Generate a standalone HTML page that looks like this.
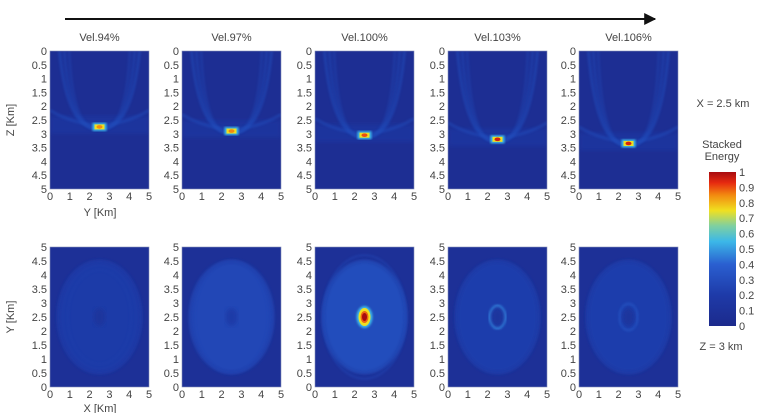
<!DOCTYPE html>
<html><head><meta charset="utf-8">
<style>
html,body{margin:0;padding:0;background:#fff;}
body{width:767px;height:413px;overflow:hidden;font-family:"Liberation Sans",sans-serif;}
svg text{font-family:"Liberation Sans",sans-serif;fill:#444;}
</style></head>
<body>
<svg id="chart" width="767" height="413" viewBox="0 0 767 413" xmlns="http://www.w3.org/2000/svg">
<defs>
<marker id="ah" viewBox="0 0 10 10" refX="9" refY="5" markerWidth="6" markerHeight="6" orient="auto"><path d="M0,0 L10,5 L0,10 z" fill="#111"/></marker>
<linearGradient id="jet" x1="0" y1="1" x2="0" y2="0">
<stop offset="0" stop-color="#1c2a8c"/><stop offset="0.2" stop-color="#1e3aa8"/><stop offset="0.4" stop-color="#2a5fd0"/>
<stop offset="0.55" stop-color="#3cb8e8"/><stop offset="0.65" stop-color="#7fd0a0"/><stop offset="0.75" stop-color="#f0e020"/>
<stop offset="0.85" stop-color="#f28a10"/><stop offset="0.93" stop-color="#e62a10"/><stop offset="1" stop-color="#a80c10"/>
</linearGradient>
<filter id="blur2"><feGaussianBlur stdDeviation="2"/></filter>
<filter id="blur1"><feGaussianBlur stdDeviation="1"/></filter>
</defs>
<line x1="65" y1="19" x2="655" y2="19" stroke="#111" stroke-width="2" marker-end="url(#ah)"/>
<g id="topG"></g>
<g id="bottomG"></g>
<g id="cbar"></g>
</svg>
<script>
const velocities = ["Vel.94%","Vel.97%","Vel.100%","Vel.103%","Vel.106%"];
const focusDepth = [2.75, 2.9, 3.05, 3.2, 3.35];
const focusPeak = [0.85, 0.85, 0.9, 0.95, 0.95];
const ringRadius = [1.6, 1.9, 2.1, 0.38, 0.45];
const ringValue = [0.22, 0.25, 0.28, 0.45, 0.3];
const centerValue = [0.12, 0.2, 1.0, 0.12, 0.12];
const haloValue = [0.2, 0.27, 0.3, 0.22, 0.22];
const ticks = [0,0.5,1,1.5,2,2.5,3,3.5,4,4.5,5];
const xTicks = [0,1,2,3,4,5];
const cbTicks = [0,0.1,0.2,0.3,0.4,0.5,0.6,0.7,0.8,0.9,1];

const NS="http://www.w3.org/2000/svg";
function mk(tag,attrs,parent){const e=document.createElementNS(NS,tag);for(const k in attrs)e.setAttribute(k,attrs[k]);parent.appendChild(e);return e;}
function jet(v){
  const st=[[0,[28,42,140]],[0.2,[30,58,168]],[0.4,[42,95,208]],[0.55,[60,184,232]],[0.65,[127,208,160]],[0.75,[240,224,32]],[0.85,[242,138,16]],[0.93,[230,42,16]],[1,[168,12,16]]];
  v=Math.max(0,Math.min(1,v));
  for(let i=1;i<st.length;i++){if(v<=st[i][0]){const t=(v-st[i-1][0])/(st[i][0]-st[i-1][0]);const a=st[i-1][1],b=st[i][1];return `rgb(${a.map((c,j)=>Math.round(c+(b[j]-c)*t)).join(',')})`;}}
  return 'rgb(168,12,16)';
}
const panelX=[50,182,315,448,579], PW=99;
const topRow={y0:51,y1:189}, botRow={y0:247,y1:387};
const topGroup=document.getElementById('topG'), botGroup=document.getElementById('bottomG');
const defsEl=document.querySelector('defs');

velocities.forEach((v,i)=>{
  const x0=panelX[i];
  const sx=d=>x0+d/5*PW;
  const szT=z=>topRow.y0+z/5*(topRow.y1-topRow.y0);
  const syB=y=>botRow.y1-y/5*(botRow.y1-botRow.y0);
  const t=mk('text',{x:x0+PW/2,y:41,'text-anchor':'middle','font-size':11},topGroup);t.textContent=v;
  
  
  const g=mk('g',{},topGroup);
  
  
  const cp='clipT'+i; const c=mk('clipPath',{id:cp},defsEl); mk('rect',{x:x0,y:topRow.y0,width:PW,height:topRow.y1-topRow.y0},c);
  mk('rect',{x:x0,y:topRow.y0,width:PW,height:topRow.y1-topRow.y0,fill:jet(0.05)},g);
  const inner=mk('g',{'clip-path':`url(#${cp})`},g);
  const z=focusDepth[i];
  mk('rect',{x:x0,y:szT(z-0.4),width:PW,height:szT(z+0.25)-szT(z-0.4),fill:jet(0.2),opacity:0.5,filter:'url(#blur2)'},inner);
  [0.3,0.7,1.1].forEach((o,k)=>{
    mk('path',{d:`M${sx(0.3+o*0.6)},${szT(0)} Q${sx(0.8+o*0.3)},${szT(z+0.2)} ${sx(2.5)},${szT(z+0.05)} Q${sx(4.2-o*0.3)},${szT(z+0.2)} ${sx(4.7-o*0.6)},${szT(0)}`,fill:'none',stroke:jet(0.3),'stroke-width':3,opacity:0.55-k*0.1,filter:'url(#blur1)'},inner);
  });
  mk('path',{d:`M${sx(0)},${szT(z-0.6)} Q${sx(2.5)},${szT(z+0.45)} ${sx(5)},${szT(z-0.6)}`,fill:'none',stroke:jet(0.3),'stroke-width':3,opacity:0.5,filter:'url(#blur1)'},inner);
  const f=mk('g',{},inner);
  
  
  mk('rect',{x:sx(2.5)-7,y:szT(z)-4,width:14,height:8,fill:jet(0.55),filter:'url(#blur1)'},f);
  mk('rect',{x:sx(2.5)-5,y:szT(z)-2.5,width:10,height:5,fill:jet(0.75)},f);
  mk('ellipse',{cx:sx(2.5),cy:szT(z),rx:3,ry:1.8,fill:jet(focusPeak[i])},f);
  mk('rect',{x:x0,y:topRow.y0,width:PW,height:topRow.y1-topRow.y0,fill:'none',stroke:'#8890b8','stroke-width':0.6},g);
  ticks.forEach(tv=>{const tt=mk('text',{x:x0-3,y:szT(tv)+4,'text-anchor':'end','font-size':11},g);tt.textContent=tv;});
  xTicks.forEach(tv=>{const tt=mk('text',{x:sx(tv),y:topRow.y1+11,'text-anchor':'middle','font-size':11},g);tt.textContent=tv;});
  const b=mk('g',{},botGroup);
  
  
  const cb='clipB'+i; const c2=mk('clipPath',{id:cb},defsEl); mk('rect',{x:x0,y:botRow.y0,width:PW,height:botRow.y1-botRow.y0},c2);
  mk('rect',{x:x0,y:botRow.y0,width:PW,height:botRow.y1-botRow.y0,fill:jet(0.08)},b);
  const bi=mk('g',{'clip-path':`url(#${cb})`},b);
  const H=botRow.y1-botRow.y0;
  mk('ellipse',{cx:sx(2.5),cy:syB(2.5),rx:PW*0.42,ry:H*0.4,fill:jet(haloValue[i]),filter:'url(#blur2)'},bi);
  mk('ellipse',{cx:sx(2.5),cy:syB(2.5),rx:PW*0.42,ry:H*0.4,fill:'none',stroke:jet(haloValue[i]+0.05),'stroke-width':2,opacity:0.4,filter:'url(#blur1)'},bi);
  const r=ringRadius[i];
  const ring=mk('ellipse',{cx:sx(2.5),cy:syB(2.5),rx:r/5*PW,ry:r/5*H*1.05,fill:'none',stroke:jet(ringValue[i]),'stroke-width':r<1?2.5:2,opacity:r<1?1:0.5,filter:'url(#blur1)'},bi);
  
  
  const cv=centerValue[i];
  const cg=mk('g',{},bi);
  
  
  if(cv>0.5){
    mk('ellipse',{cx:sx(2.5),cy:syB(2.5),rx:8,ry:11,fill:jet(cv*0.55),filter:'url(#blur1)'},cg);
    mk('ellipse',{cx:sx(2.5),cy:syB(2.5),rx:6,ry:9,fill:jet(cv*0.75)},cg);
    mk('ellipse',{cx:sx(2.5),cy:syB(2.5),rx:4,ry:6,fill:jet(cv*0.88)},cg);
    mk('ellipse',{cx:sx(2.5),cy:syB(2.5),rx:2.5,ry:4,fill:jet(cv)},cg);
  } else {
    mk('ellipse',{cx:sx(2.5),cy:syB(2.5),rx:6,ry:9,fill:jet(cv),filter:'url(#blur2)'},cg);
  }
  mk('rect',{x:x0,y:botRow.y0,width:PW,height:H,fill:'none',stroke:'#8890b8','stroke-width':0.6},b);
  ticks.forEach(tv=>{const tt=mk('text',{x:x0-3,y:syB(tv)+4,'text-anchor':'end','font-size':11},b);tt.textContent=tv;});
  xTicks.forEach(tv=>{const tt=mk('text',{x:sx(tv),y:botRow.y1+11,'text-anchor':'middle','font-size':11},b);tt.textContent=tv;});
});
function label(txt,x,y,rot,name){const t=mk('text',{x:x,y:y,'text-anchor':'middle','font-size':11},document.getElementById('chart'));if(rot)t.setAttribute('transform',`rotate(-90 ${x} ${y})`);t.textContent=txt;
  
  }
label('Z [Km]',14,120,true,'z-axis-title');
label('Y [Km]',100,216,false,'top-x-axis-title');
label('Y [Km]',14,317,true,'bottom-y-axis-title');
label('X [Km]',100,412,false,'bottom-x-axis-title');
label('X = 2.5 km',723,107,false,'top-row-note');
label('Z = 3 km',721,350,false,'bottom-row-note');
label('Stacked',722,148,false,'colorbar-title');
label('Energy',722,160,false,'colorbar-title-2');
const cbG=document.getElementById('cbar');


const cb0=326,cb1=172;
mk('rect',{x:709,y:cb1,width:27,height:cb0-cb1,fill:'url(#jet)'},cbG);
cbTicks.forEach(tv=>{const y=cb0-tv*(cb0-cb1);const tt=mk('text',{x:739,y:y+4,'font-size':11},cbG);tt.textContent=tv;});
</script>
</body></html>
